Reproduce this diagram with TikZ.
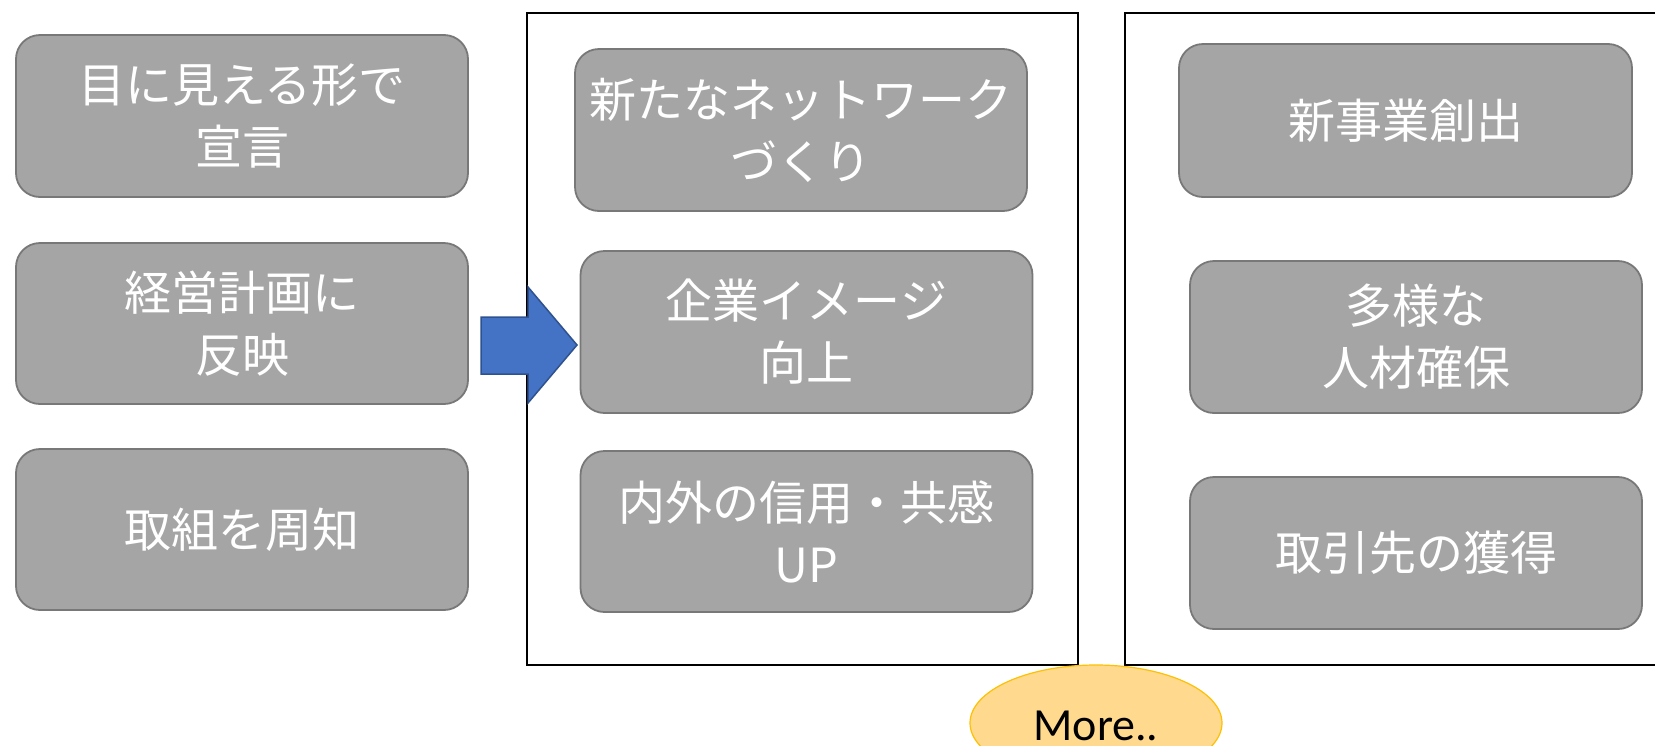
\documentclass[tikz,border=0pt]{standalone}
\usepackage{fontspec}
\newfontfamily\jp{Noto Sans CJK JP}
\newfontfamily\carl{Carlito}
\usetikzlibrary{shapes.geometric}
\definecolor{boxfill}{HTML}{A5A5A5}
\definecolor{boxline}{HTML}{787878}
\definecolor{arrfill}{HTML}{4472C4}
\definecolor{arrline}{HTML}{2F528F}
\definecolor{ellfill}{HTML}{FED98E}
\definecolor{ellline}{HTML}{FFC000}
\tikzset{
  gbox/.style={draw=boxline, line width=1.8pt, fill=boxfill, rounded corners=24pt,
    minimum width=452pt, inner sep=0pt, text=white, align=center,
    font=\jp\fontsize{47}{62}\selectfont},
  frame/.style={draw=black, line width=1.8pt},
}
\begin{document}
\begin{tikzpicture}[x=1pt,y=-1pt]
\useasboundingbox (0,0) rectangle (1655,745);
\clip (0,0) rectangle (1655,745);
\fill[white] (0,0) rectangle (1655,745);
% frames
\draw[frame] (527,13) rectangle (1078,665);
\draw[frame] (1125,13) rectangle (1680,665);
% left column
\node[gbox, minimum height=162pt] (l1) at (242,116) {目に見える形で\\宣言};
\node[gbox, minimum height=161pt] (l2) at (242,323.5) {経営計画に\\反映};
\node[gbox, minimum height=161pt] (l3) at (242,529.5) {取組を周知};
% middle column
\node[gbox, minimum height=162pt] (m1) at (801,130) {新たなネットワーク\\づくり};
\node[gbox, minimum height=162pt] (m2) at (806.5,332) {企業イメージ\\向上};
\node[gbox, minimum height=161pt] (m3) at (806.5,531.5) {内外の信用・共感\\UP};
% right column
\node[gbox, minimum width=453pt, minimum height=153pt] (r1) at (1405.5,120.5) {新事業創出};
\node[gbox, minimum width=452pt, minimum height=152pt] (r2) at (1416,337) {多様な\\人材確保};
\node[gbox, minimum width=452pt, minimum height=152pt] (r3) at (1416,553) {取引先の獲得};
% block arrow
\draw[draw=arrline, line width=1.5pt, fill=arrfill, line join=miter]
  (481,317) -- (528,317) -- (528,287) -- (577,345) -- (528,403) -- (528,374) -- (481,374) -- cycle;
% ellipse
\node[ellipse, draw=ellline, line width=1.2pt, fill=ellfill, minimum width=252pt,
  minimum height=116pt, inner sep=0pt] (more) at (1096,723) {};
\node[font=\carl\fontsize{46}{50}\selectfont, inner sep=0pt] (moretext) at (1096,726) {More..};
\end{tikzpicture}
\end{document}
